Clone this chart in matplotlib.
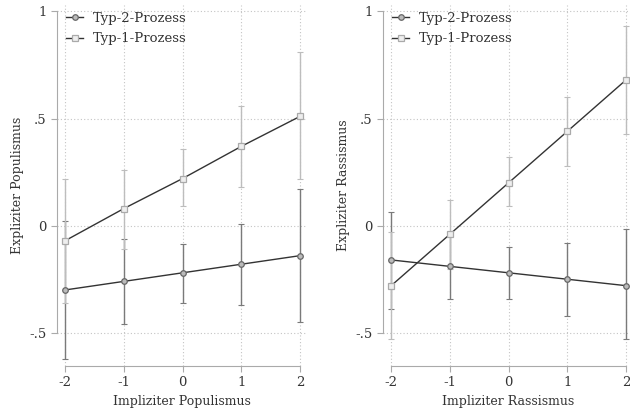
import matplotlib
matplotlib.use("Agg")
import matplotlib.pyplot as plt

plt.rcParams['font.family'] = ['DejaVu Serif']

x = [-2, -1, 0, 1, 2]

# Linkes Panel: Populismus
pop_t2 = [-0.30, -0.26, -0.22, -0.18, -0.14]
pop_t2_lo = [-0.62, -0.46, -0.36, -0.37, -0.45]
pop_t2_hi = [0.02, -0.06, -0.085, 0.01, 0.17]
pop_t1 = [-0.07, 0.08, 0.22, 0.37, 0.51]
pop_t1_lo = [-0.36, -0.11, 0.09, 0.18, 0.22]
pop_t1_hi = [0.22, 0.26, 0.36, 0.56, 0.81]

# Rechtes Panel: Rassismus
ras_t2 = [-0.16, -0.19, -0.22, -0.25, -0.28]
ras_t2_lo = [-0.39, -0.34, -0.34, -0.42, -0.53]
ras_t2_hi = [0.065, -0.04, -0.10, -0.08, -0.015]
ras_t1 = [-0.28, -0.04, 0.20, 0.44, 0.68]
ras_t1_lo = [-0.53, -0.20, 0.09, 0.28, 0.43]
ras_t1_hi = [-0.03, 0.12, 0.32, 0.60, 0.93]

yticks = [-0.5, 0, 0.5, 1]
ytick_labels = ["-.5", "0", ".5", "1"]
legend_labels = ["Typ-2-Prozess", "Typ-1-Prozess"]

fig = plt.figure(figsize=(6.3, 4.08), dpi=100)
ax1 = fig.add_axes([57/630, 1-366/408, 250/630, 361/408])
ax2 = fig.add_axes([383/630, 1-366/408, 250/630, 361/408])


def panel(ax, t2, t2lo, t2hi, t1, t1lo, t1hi, xlabel, ylabel):
    err2 = [[a - b for a, b in zip(t2, t2lo)], [b - a for a, b in zip(t2, t2hi)]]
    err1 = [[a - b for a, b in zip(t1, t1lo)], [b - a for a, b in zip(t1, t1hi)]]
    ax.errorbar(x, t2, yerr=err2, fmt='none', ecolor='#7a7a7a', elinewidth=1,
                capsize=2.5, capthick=0.8, zorder=2)
    ax.errorbar(x, t1, yerr=err1, fmt='none', ecolor='#bdbdbd', elinewidth=1,
                capsize=2.5, capthick=0.8, zorder=2)
    ax.plot(x, t2, color='#333333', lw=1, marker='o', ms=4,
            mfc='#bbbbbb', mec='#666666', mew=0.9, zorder=3, label=legend_labels[0])
    ax.plot(x, t1, color='#333333', lw=1, marker='s', ms=4,
            mfc='#eeeeee', mec='#aaaaaa', mew=0.9, zorder=3, label=legend_labels[1])
    ax.set_xlim(-2.14, 2.12)
    ax.set_ylim(-0.655, 1.03)
    ax.set_xticks(x)
    ax.set_xticklabels([str(v) for v in x])
    ax.set_yticks(yticks)
    ax.set_yticklabels(ytick_labels)
    ax.grid(True, linestyle=(0, (1, 2)), color='#c4c4c4', linewidth=0.8)
    ax.set_axisbelow(True)
    for s in ['top', 'right']:
        ax.spines[s].set_visible(False)
    ax.spines['left'].set_bounds(-0.5, 1)
    ax.spines['bottom'].set_bounds(-2, 2)
    for s in ['left', 'bottom']:
        ax.spines[s].set_color('#aaaaaa')
        ax.spines[s].set_linewidth(0.8)
    ax.tick_params(colors='#aaaaaa', labelcolor='#333333', labelsize=9.5, length=4, width=0.8)
    ax.set_xlabel(xlabel, fontsize=9, color='#333333')
    ax.set_ylabel(ylabel, fontsize=9, color='#333333')
    leg = ax.legend(loc='upper left', frameon=False, fontsize=9.5, handlelength=1.3,
                    handletextpad=0.7, borderaxespad=0.0, labelspacing=0.55,
                    bbox_to_anchor=(0.015, 0.995))
    for t in leg.get_texts():
        t.set_color('#333333')


panel(ax1, pop_t2, pop_t2_lo, pop_t2_hi, pop_t1, pop_t1_lo, pop_t1_hi,
      "Impliziter Populismus", "Expliziter Populismus")
panel(ax2, ras_t2, ras_t2_lo, ras_t2_hi, ras_t1, ras_t1_lo, ras_t1_hi,
      "Impliziter Rassismus", "Expliziter Rassismus")

fig.savefig("out.png", dpi=100)
